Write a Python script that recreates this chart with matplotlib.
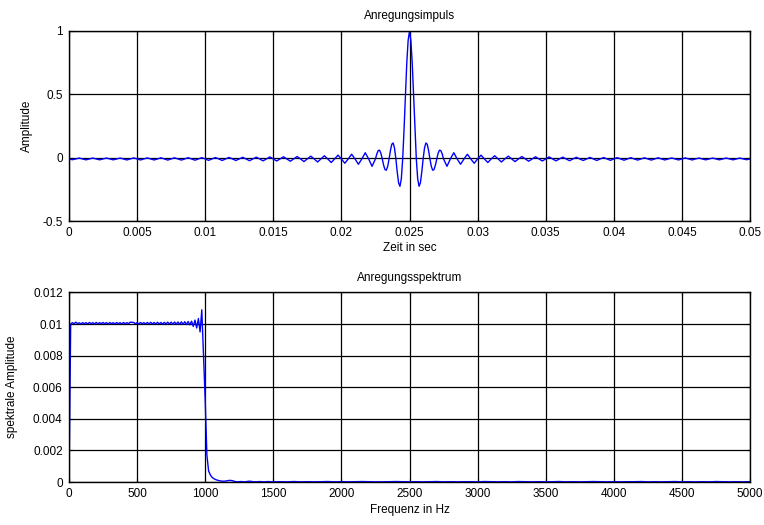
import numpy as np
import matplotlib
matplotlib.use("Agg")
import matplotlib.pyplot as plt

plt.rcParams['font.family'] = ['Liberation Sans', 'DejaVu Sans']
plt.rcParams['font.size'] = 8.5

# ---------------- data: excitation pulse (time domain) ----------------
pulse_left_tail = [
    -0.010, -0.016, -0.010, -0.003, -0.010, -0.017, -0.010, -0.003, -0.010, -0.017,
    -0.010, -0.003, -0.010, -0.017, -0.010, -0.003, -0.010, -0.018, -0.010, -0.002,
    -0.010, -0.018, -0.010, -0.002, -0.010, -0.018, -0.010, -0.001, -0.010, -0.019,
    -0.010, -0.001, -0.010, -0.019, -0.010, 0.000, -0.010, -0.020, -0.010, 0.000,
    -0.010, -0.021, -0.010, 0.001, -0.010, -0.022, -0.010, 0.002, -0.010, -0.022,
    -0.010, 0.003, -0.010, -0.024, -0.010, 0.004, -0.010, -0.025, -0.010, 0.006,
    -0.010, -0.026, -0.010, 0.007, -0.010, -0.028, -0.010, 0.009, -0.010, -0.031,
    -0.010, 0.012, -0.010, -0.034, -0.010, 0.015, -0.010, -0.038, -0.010, 0.020,
    -0.010, -0.044, -0.010, 0.027, -0.010, -0.052, -0.010, 0.039, -0.010, -0.068,
]
pulse_center = [
    -0.010, 0.029, 0.056, 0.059, 0.035, -0.010, -0.059, -0.094, -0.099, -0.068,
    -0.010, 0.057, 0.106, 0.116, 0.075, -0.010, -0.114, -0.199, -0.226, -0.166,
    -0.010, 0.224, 0.495, 0.747, 0.926, 0.998, 0.926, 0.747, 0.495, 0.224,
    -0.010, -0.166, -0.226, -0.199, -0.114, -0.010, 0.075, 0.116, 0.106, 0.057,
    -0.010, -0.068, -0.099, -0.094, -0.059, -0.010, 0.035, 0.059, 0.056, 0.029,
    -0.010,
]
pulse_right_tail = [
    -0.068, -0.010, 0.039, -0.010, -0.052, -0.010, 0.027, -0.010, -0.044, -0.010,
    0.020, -0.010, -0.038, -0.010, 0.015, -0.010, -0.034, -0.010, 0.012, -0.010,
    -0.031, -0.010, 0.009, -0.010, -0.028, -0.010, 0.007, -0.010, -0.026, -0.010,
    0.006, -0.010, -0.025, -0.010, 0.004, -0.010, -0.024, -0.010, 0.003, -0.010,
    -0.022, -0.010, 0.002, -0.010, -0.022, -0.010, 0.001, -0.010, -0.021, -0.010,
    0.000, -0.010, -0.020, -0.010, 0.000, -0.010, -0.019, -0.010, -0.001, -0.010,
    -0.019, -0.010, -0.001, -0.010, -0.018, -0.010, -0.002, -0.010, -0.018, -0.010,
    -0.002, -0.010, -0.018, -0.010, -0.003, -0.010, -0.017, -0.010, -0.003, -0.010,
    -0.017, -0.010, -0.003, -0.010, -0.017, -0.010, -0.003, -0.010, -0.016, -0.010,
]
# sample times (s) of the three pieces
t_left_tail = np.linspace(0.0, 0.02225, len(pulse_left_tail))
t_center = np.linspace(0.0225, 0.0275, len(pulse_center))
t_right_tail = np.linspace(0.02775, 0.05, len(pulse_right_tail))

# ---------------- data: excitation spectrum ----------------
spec_pass = [
    0.0, 0.01000, 0.01009, 0.01002, 0.01012, 0.01003, 0.01008, 0.01001, 0.01009, 0.01002,
    0.01009, 0.01001, 0.01010, 0.01002, 0.01009, 0.01001, 0.01010, 0.01002, 0.01009, 0.01003,
    0.01010, 0.01002, 0.01009, 0.01001, 0.01010, 0.01002, 0.01009, 0.01001, 0.01010, 0.01002,
    0.01009, 0.01001, 0.01010, 0.01002, 0.01009, 0.01003, 0.01012, 0.01011, 0.01010, 0.01002,
    0.01009, 0.01001, 0.01010, 0.01002, 0.01009, 0.01001, 0.01010, 0.01001, 0.01011, 0.01001,
    0.01010, 0.01000, 0.01011, 0.01001, 0.01010, 0.01000, 0.01011, 0.01000, 0.01012, 0.01000,
    0.01012, 0.00999, 0.01013, 0.00999, 0.01013, 0.00998, 0.01014, 0.00998, 0.01015, 0.00997,
    0.01016, 0.00995, 0.01018, 0.00985, 0.01025, 0.00975, 0.01035, 0.00950, 0.01090, 0.00800,
    0.00520,
]
spec_edge = [
    0.00170, 0.00070, 0.00045, 0.00030, 0.00022, 0.00016, 0.00012, 0.00009, 0.00007, 0.00005,
    0.00005, 0.00006, 0.00008, 0.00010, 0.00010, 0.00008, 0.00005, 0.00002, 0.00001, 0.00002,
    0.00003, 0.00002, 0.00001, 0.00002, 0.00004, 0.00005, 0.00004, 0.00002, 0.00001, 0.00001,
    0.00002, 0.00003, 0.00002, 0.00001, 0.00001, 0.00002, 0.00003, 0.00002, 0.00001, 0.00001,
]
spec_stop = [
    0.00002, 0.00001, 0.00003, 0.00001, 0.00002, 0.00001, 0.00002, 0.00003, 0.00001, 0.00002,
    0.00001, 0.00002, 0.00003, 0.00002, 0.00001, 0.00001, 0.00002, 0.00003, 0.00002, 0.00001,
    0.00002, 0.00001, 0.00002, 0.00003, 0.00001, 0.00002, 0.00001, 0.00002, 0.00002, 0.00001,
    0.00003, 0.00002, 0.00001, 0.00002, 0.00001, 0.00003, 0.00002, 0.00001, 0.00002, 0.00001,
    0.00002, 0.00003, 0.00001, 0.00002, 0.00001, 0.00002, 0.00003, 0.00002, 0.00001, 0.00002,
    0.00001, 0.00002, 0.00002, 0.00003, 0.00001, 0.00002, 0.00001, 0.00002, 0.00003, 0.00001,
    0.00002, 0.00001, 0.00002, 0.00001, 0.00003, 0.00002, 0.00001, 0.00002, 0.00001, 0.00002,
]
f_pass = np.linspace(0.0, 1000.0, len(spec_pass))
f_edge = np.linspace(1012.5, 1500.0, len(spec_edge))
f_stop = np.linspace(1550.0, 5000.0, len(spec_stop))

# ---------------- ticks / labels ----------------
top_xticks = [0, 0.005, 0.01, 0.015, 0.02, 0.025, 0.03, 0.035, 0.04, 0.045, 0.05]
top_xlabels = ['0', '0.005', '0.01', '0.015', '0.02', '0.025', '0.03', '0.035', '0.04', '0.045', '0.05']
top_yticks = [-0.5, 0, 0.5, 1]
top_ylabels = ['-0.5', '0', '0.5', '1']
bot_xticks = [0, 500, 1000, 1500, 2000, 2500, 3000, 3500, 4000, 4500, 5000]
bot_xlabels = [str(v) for v in bot_xticks]
bot_yticks = [0, 0.002, 0.004, 0.006, 0.008, 0.01, 0.012]
bot_ylabels = ['0', '0.002', '0.004', '0.006', '0.008', '0.01', '0.012']

t = np.concatenate([t_left_tail, t_center, t_right_tail])
pulse = np.concatenate([pulse_left_tail, pulse_center, pulse_right_tail])
f = np.concatenate([f_pass, f_edge, f_stop])
spec = np.concatenate([spec_pass, spec_edge, spec_stop])

fig = plt.figure(figsize=(7.64, 5.25), dpi=100)
ax1 = fig.add_axes([0.0903, 0.579, 0.8914, 0.362])
ax2 = fig.add_axes([0.0903, 0.0819, 0.8914, 0.361])

def style(ax):
    ax.grid(True, color='black', linewidth=0.9, linestyle='-')
    ax.set_axisbelow(True)
    for s in ax.spines.values():
        s.set_linewidth(1.0)
        s.set_color('black')
    ax.tick_params(direction='in', length=3, width=0.8, labelsize=8.5,
                   top=True, right=True, pad=4.5)

ax1.plot(t, pulse, color='#0000ff', linewidth=1.0)
ax1.set_xlim(0, 0.05)
ax1.set_ylim(-0.5, 1)
ax1.set_xticks(top_xticks)
ax1.set_xticklabels(top_xlabels)
ax1.set_yticks(top_yticks)
ax1.set_yticklabels(top_ylabels)
ax1.set_title('Anregungsimpuls', fontsize=8.5, pad=8.5)
ax1.set_xlabel('Zeit in sec', fontsize=8.5, labelpad=2)
ax1.set_ylabel('Amplitude', fontsize=8.5)
ax1.yaxis.set_label_coords(-0.053, 0.5)
style(ax1)

ax2.plot(f, spec, color='#0000ff', linewidth=1.0)
ax2.set_xlim(0, 5000)
ax2.set_ylim(0, 0.012)
ax2.set_xticks(bot_xticks)
ax2.set_xticklabels(bot_xlabels)
ax2.set_yticks(bot_yticks)
ax2.set_yticklabels(bot_ylabels)
ax2.set_title('Anregungsspektrum', fontsize=8.5, pad=8.5)
ax2.set_xlabel('Frequenz in Hz', fontsize=8.5, labelpad=3)
ax2.set_ylabel('spektrale Amplitude', fontsize=8.5)
ax2.yaxis.set_label_coords(-0.075, 0.5)
style(ax2)

fig.savefig('out.png', dpi=100)
